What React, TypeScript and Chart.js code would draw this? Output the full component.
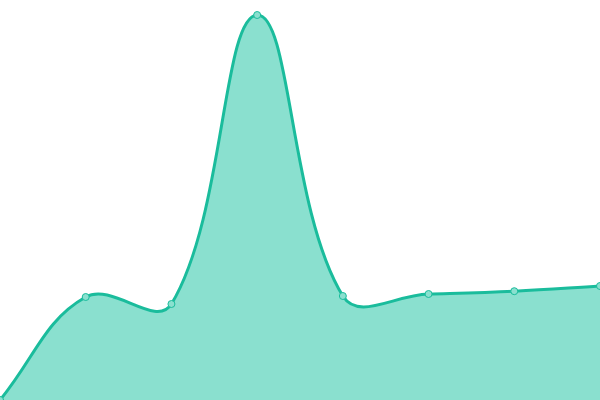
import React, { useEffect, useRef } from "react";
import Chart from "chart.js/auto";

const labels = ["A", "B", "C", "D", "E", "F", "G", "H"];
const values = [0, 25.75, 24, 96.25, 26, 26.5, 27.2, 28.5];

export default function App() {
  const canvasRef = useRef<HTMLCanvasElement | null>(null);
  useEffect(() => {
    document.body.style.margin = "0";
    if (!canvasRef.current) return;
    const chart = new Chart(canvasRef.current, {
      type: "line",
      data: {
        labels,
        datasets: [
          {
            data: values,
            borderColor: "#1abc9c",
            backgroundColor: "rgb(138,224,207)",
            pointBackgroundColor: "rgb(138,224,207)",
            pointBorderColor: "#1abc9c",
            pointBorderWidth: 1,
            pointRadius: 3.5,
            borderWidth: 3,
            tension: 0.4,
            fill: true
          }
        ]
      },
      options: {
        animation: false,
        responsive: true,
        maintainAspectRatio: false,
        layout: { autoPadding: false, padding: 0 },
        plugins: { legend: { display: false }, tooltip: { enabled: false } },
        scales: {
          x: { display: false },
          y: { display: false, min: 0, max: 100 }
        }
      }
    });
    return () => chart.destroy();
  }, []);

  return (
    <div style={{ width: 600, height: 400, position: "relative" }}>
      <canvas ref={canvasRef} />
    </div>
  );
}
